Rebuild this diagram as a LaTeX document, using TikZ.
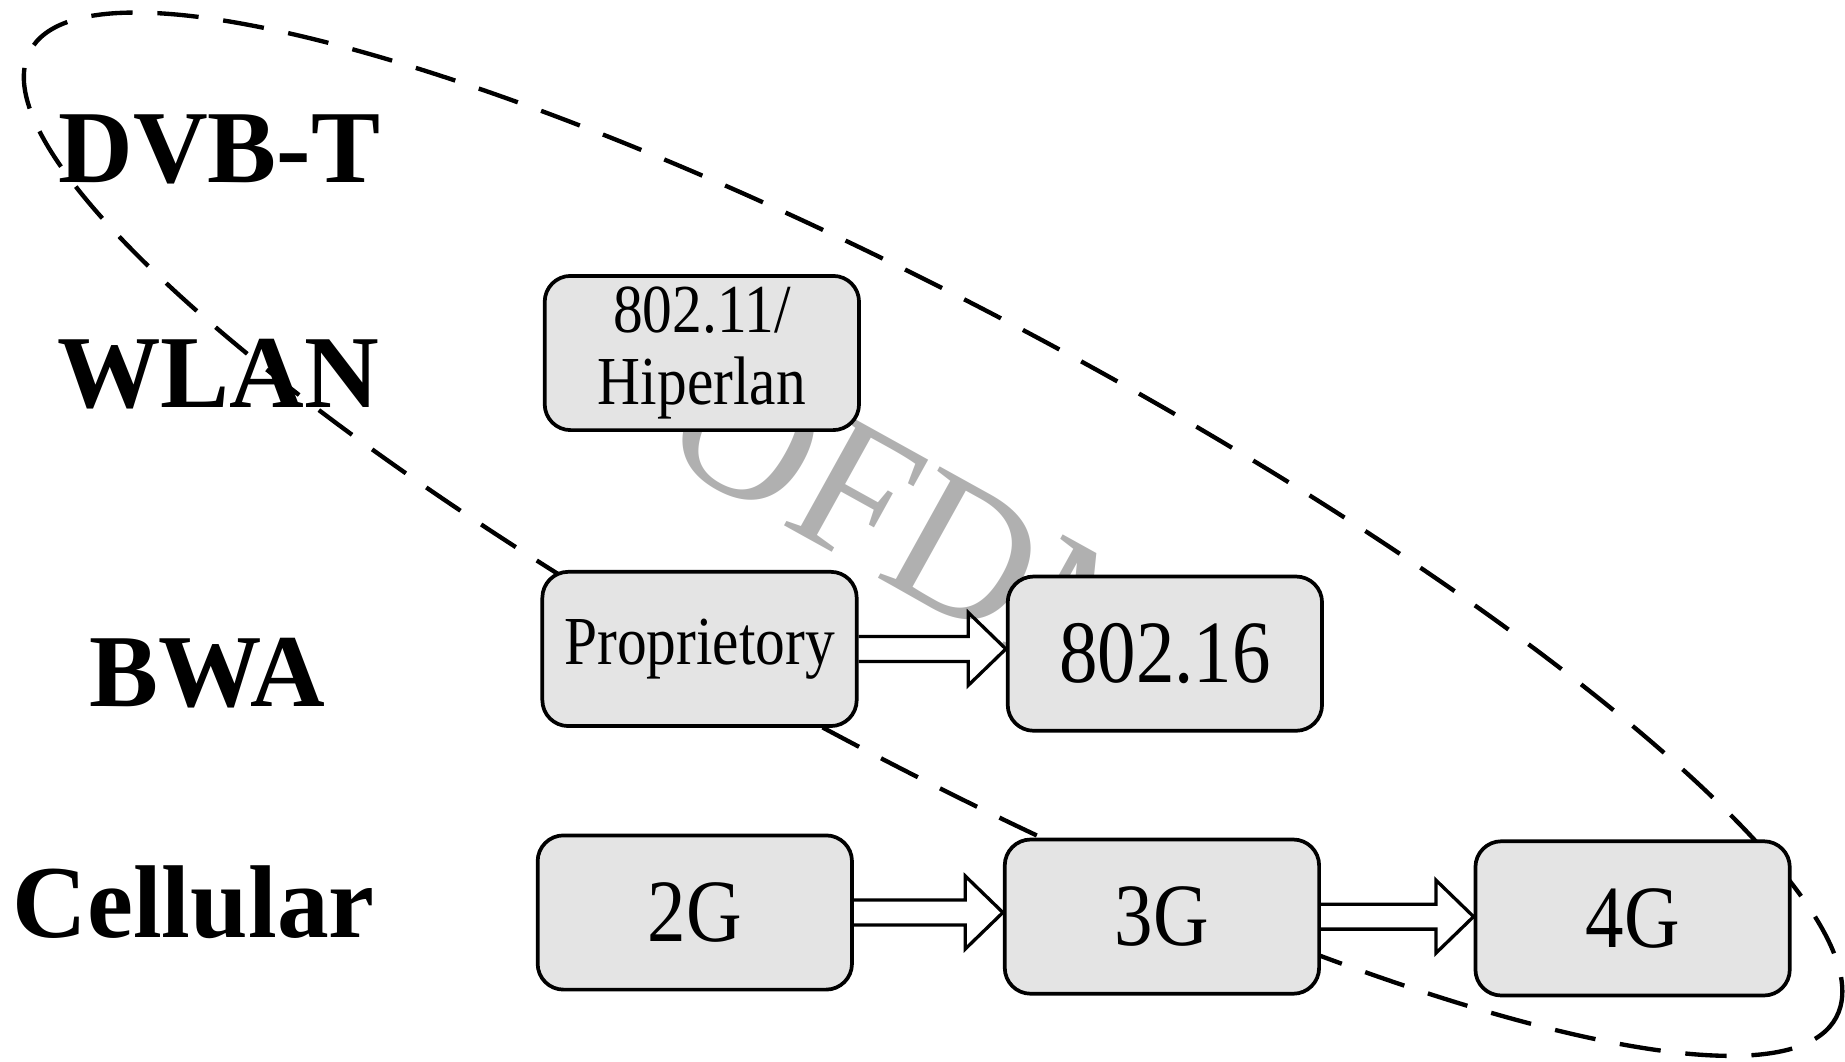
\documentclass[tikz,border=0pt]{standalone}
\usepackage{fontspec}
\setmainfont{Liberation Serif}
\newfontfamily\boxfont[FakeStretch=0.865]{Liberation Serif}
\usetikzlibrary{calc}

\definecolor{boxfill}{RGB}{228,228,228}
\definecolor{markgray}{RGB}{176,176,176}

\begin{document}
\begin{tikzpicture}[x=0.01cm,y=-0.01cm,
  techbox/.style={draw=black, line width=0.9pt, fill=boxfill,
    rounded corners=0.22cm, minimum width=2.67cm, minimum height=1.31cm,
    inner sep=0pt, align=center},
  bigtxt/.style={font=\boxfont\fontsize{21.5}{24}\selectfont},
  smalltxt/.style={font=\boxfont\fontsize{16.6}{17.4}\selectfont},
  rowlabel/.style={anchor=base west, inner sep=0pt,
    font=\bfseries\fontsize{25}{30}\selectfont},
  ringline/.style={line width=1.05pt, dash pattern=on 10pt off 6pt},
  hollowarrow/.style={draw=black, line width=0.8pt, line join=miter}
]
\useasboundingbox (0,0) rectangle (1568,902);

% watermark behind everything
\node[anchor=base west, inner sep=0pt, rotate=-29, text=markgray,
  font=\fontsize{47}{50}\selectfont] (ofdm) at (557,386) {OFDM};

% row labels
\node[rowlabel] (dvbt) at (49,155) {DVB-T};
\node[rowlabel] (wlanlab) at (48,346) {WLAN};
\node[rowlabel] (bwa) at (75,600) {BWA};
\node[rowlabel] (cell) at (10,797) {Cellular};

% dashed OFDM region
\draw[ringline, rotate around={-28.15:(793,454)}]
  (793,454) ellipse [x radius=8.70cm, y radius=1.89cm];

% technology boxes
\node[techbox, smalltxt] (wlan) at (596.5,300) {802.11/\\Hiperlan};
\node[techbox, smalltxt] (prop) at (594.5,551.5) {Proprietory};
\node[techbox, bigtxt] (b16) at (990,555.5) {802.16};
\node[techbox, bigtxt] (g2) at (590.5,775.5) {2G};
\node[techbox, bigtxt] (g3) at (987.5,779) {3G};
\node[techbox, bigtxt] (g4) at (1387.5,780.5) {4G};

% hollow block arrows
\draw[hollowarrow]
  ($(prop.east)+(0,-10.6)$) -- ($(b16.west |- prop.east)+(-32,-10.6)$)
  -- ($(b16.west |- prop.east)+(-32,-31)$) -- (b16.west |- prop.east)
  -- ($(b16.west |- prop.east)+(-32,31)$) -- ($(b16.west |- prop.east)+(-32,10.6)$)
  -- ($(prop.east)+(0,10.6)$);
\draw[hollowarrow]
  ($(g2.east)+(0,-10.6)$) -- ($(g3.west |- g2.east)+(-32,-10.6)$)
  -- ($(g3.west |- g2.east)+(-32,-31)$) -- (g3.west |- g2.east)
  -- ($(g3.west |- g2.east)+(-32,31)$) -- ($(g3.west |- g2.east)+(-32,10.6)$)
  -- ($(g2.east)+(0,10.6)$);
\draw[hollowarrow]
  ($(g3.east)+(0,-10.6)$) -- ($(g4.west |- g3.east)+(-32,-10.6)$)
  -- ($(g4.west |- g3.east)+(-32,-31)$) -- (g4.west |- g3.east)
  -- ($(g4.west |- g3.east)+(-32,31)$) -- ($(g4.west |- g3.east)+(-32,10.6)$)
  -- ($(g3.east)+(0,10.6)$);
\end{tikzpicture}
\end{document}
